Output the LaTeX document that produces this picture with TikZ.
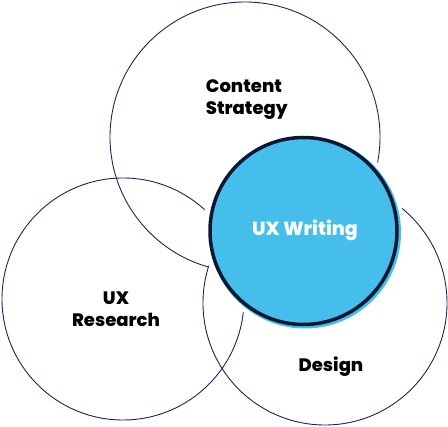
\documentclass[tikz,border=0pt]{standalone}
\usepackage{fontspec}
\setmainfont{Poppins}[BoldFont={Poppins ExtraBold}]
\usepackage{tikz}
\usetikzlibrary{shapes,backgrounds}
\definecolor{ring-navy}{RGB}{27,38,88}
\definecolor{deep-navy}{RGB}{10,24,50}
\definecolor{ux-blue}{RGB}{69,190,236}
\tikzstyle{ring}=[circle, draw=ring-navy, line width=0.9pt, inner sep=0pt]
\tikzstyle{label}=[inner sep=0pt, font=\fontsize{18}{22}\selectfont\bfseries]
\begin{document}
\begin{tikzpicture}[x=1pt, y=-1pt]
	\useasboundingbox (0,0) rectangle (448,427);
	\node[ring, minimum size=270pt] (strategy) at (245,137) {};
	\node[ring, minimum size=242pt] (research) at (123,299) {};
	\node[ring, minimum size=244pt] (design) at (325,303) {};
	% white halo and the writing circle on top
	\node[circle, fill=white, inner sep=0pt, minimum size=202pt] (halo) at (303.5,231) {};
	\node[circle, fill=ux-blue, inner sep=0pt, minimum size=192pt] (glow) at (305,232.5) {};
	\node[circle, fill=ux-blue, draw=deep-navy, line width=3.5pt, inner sep=0pt, minimum size=187pt] (writing) at (303.5,231) {};
	\node[label, anchor=north west, align=left] (strategytext) at (205.7,79) {Content\\Strategy};
	\node[label, anchor=north, align=center] (researchtext) at (116,291.7) {UX\\Research};
	\node[label, anchor=north] (designtext) at (331,356.7) {Design};
	\node[label, anchor=north, text=white, font=\fontsize{19}{22}\selectfont\bfseries] (writingtext) at (305,220) {UX Writing};
\end{tikzpicture}
\end{document}
